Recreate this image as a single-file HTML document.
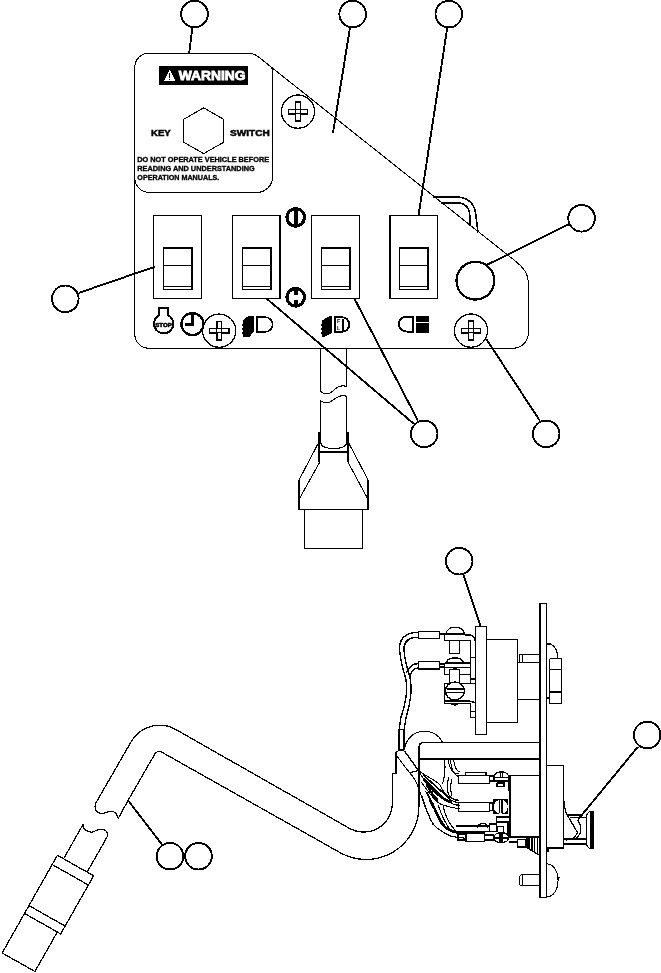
<!DOCTYPE html>
<html><head><meta charset="utf-8"><title>Panel</title>
<style>
html,body{margin:0;padding:0;background:#fff;}
svg{display:block;filter:grayscale(1);}
text{font-family:"Liberation Sans",sans-serif;font-weight:bold;fill:#000;}
.l{fill:none;stroke:#000;stroke-width:1.05;}
.m{fill:none;stroke:#000;stroke-width:1.6;}
.k{fill:none;stroke:#000;stroke-width:2;}
.w{fill:#fff;stroke:#000;stroke-width:1.05;}
.wm{fill:#fff;stroke:#000;stroke-width:1.6;}
.b{fill:#000;stroke:none;}
</style></head><body>
<svg width="661" height="973" viewBox="0 0 661 973" shape-rendering="crispEdges">
<rect width="661" height="973" fill="#fff"/>

<!-- ===== TOP PANEL ===== -->
<g id="panel">
<!-- handle behind panel -->
<path class="m" d="M432.8,196.9 H455 C467,196.9 475,203 476,216 L478,232.5"/>
<path class="m" d="M440.5,202.7 H456 C464,202.9 469.6,207 469.8,216 L470,226"/>
<!-- panel outline -->
<path class="l" d="M134.8,67.2 A14,14 0 0 1 148.8,53.2 H248.5 Q253.2,53.2 257.5,56.2 L516,261.6 Q528.3,271.3 528.3,282 V333 A15,15 0 0 1 513.3,348.2 H148.8 A14,14 0 0 1 134.8,334.2 Z"/>
<!-- warning label -->
<path class="l" d="M134.8,178 A14.5,14.5 0 0 0 149.3,192.4 H257 A15.6,15.6 0 0 0 272.6,176.8 V71.5 Q272.6,68.5 270.3,66.3"/>
<rect class="b" x="159.3" y="66.1" width="88.8" height="18.9"/>
<path d="M169.6,69.6 L175.4,81.2 H163.8 Z" fill="#fff"/>
<path d="M169.6,73.2 V77.6 M169.6,78.6 V80.2" stroke="#000" stroke-width="1.5" fill="none"/>
<text x="178.8" y="80" font-size="12.4" textLength="66.8" lengthAdjust="spacingAndGlyphs" style="fill:#fff;stroke:#fff;stroke-width:0.8">WARNING</text>
<path class="l" d="M203.7,107.8 L223.6,119.3 V142.3 L203.7,153.6 L183.8,142.3 V119.3 Z"/>
<text x="151" y="135.6" font-size="9.5" textLength="19.8" lengthAdjust="spacingAndGlyphs" style="stroke:#000;stroke-width:0.5">KEY</text>
<text x="230" y="135.6" font-size="9.5" textLength="39.8" lengthAdjust="spacingAndGlyphs" style="stroke:#000;stroke-width:0.5">SWITCH</text>
<text x="137.3" y="162.4" font-size="7.8" textLength="131.8" lengthAdjust="spacingAndGlyphs" style="stroke:#000;stroke-width:0.35">DO NOT OPERATE VEHICLE BEFORE</text>
<text x="137.3" y="171.2" font-size="7.8" textLength="117.4" lengthAdjust="spacingAndGlyphs" style="stroke:#000;stroke-width:0.35">READING AND UNDERSTANDING</text>
<text x="137.3" y="180.3" font-size="7.8" textLength="82" lengthAdjust="spacingAndGlyphs" style="stroke:#000;stroke-width:0.35">OPERATION MANUALS.</text>
</g>

<!-- switches -->
<g id="switches">
<rect class="l" x="153.5" y="215.5" width="48" height="83"/>
<rect class="l" x="163.5" y="247.5" width="28.5" height="42"/>
<path class="k" d="M163.0,248 h29.5 M191.5,247 v43"/>
<path class="l" d="M163.5,265.5 h28 M163.5,286.5 h28"/>
<rect class="l" x="232.5" y="215.5" width="48" height="83"/>
<rect class="l" x="242.5" y="247.5" width="28.5" height="42"/>
<path class="k" d="M242.0,248 h29.5 M270.5,247 v43"/>
<path class="l" d="M242.5,265.5 h28 M242.5,286.5 h28"/>
<rect class="l" x="311.5" y="215.5" width="48" height="83"/>
<rect class="l" x="321.5" y="247.5" width="28.5" height="42"/>
<path class="k" d="M321.0,248 h29.5 M349.5,247 v43"/>
<path class="l" d="M321.5,265.5 h28 M321.5,286.5 h28"/>
<rect class="l" x="390" y="215.5" width="47.5" height="83"/>
<rect class="l" x="399.5" y="247.5" width="28.5" height="42"/>
<path class="k" d="M399.0,248 h29.5 M427.5,247 v43"/>
<path class="l" d="M399.5,265.5 h28 M399.5,286.5 h28"/>
<path class="k" d="M280,215 v84"/>
</g>
<!-- screws -->
<g transform="translate(298,111.6)"><circle class="w" r="16.6" style="stroke-width:1.3"/><path class="l" d="M-2.4,-9.4 h4.8 v7.2 h7.2 v4.4 h-7.2 v7.2 h-4.8 v-7.2 h-7.2 v-4.4 h7.2 Z" style="stroke-width:1.5"/><rect class="l" x="-2.4" y="-2.2" width="4.8" height="4.4" style="stroke-width:1"/></g>
<g transform="translate(219.2,330.7)"><circle class="w" r="16.6" style="stroke-width:1.3"/><path class="l" d="M-2.4,-9.4 h4.8 v7.2 h7.2 v4.4 h-7.2 v7.2 h-4.8 v-7.2 h-7.2 v-4.4 h7.2 Z" style="stroke-width:1.5"/><rect class="l" x="-2.4" y="-2.2" width="4.8" height="4.4" style="stroke-width:1"/></g>
<g transform="translate(471,330.6)"><circle class="w" r="16.6" style="stroke-width:1.3"/><path class="l" d="M-2.4,-9.4 h4.8 v7.2 h7.2 v4.4 h-7.2 v7.2 h-4.8 v-7.2 h-7.2 v-4.4 h7.2 Z" style="stroke-width:1.5"/><rect class="l" x="-2.4" y="-2.2" width="4.8" height="4.4" style="stroke-width:1"/></g>
<!-- slot symbols -->
<circle cx="295.7" cy="217.4" r="8.8" fill="#fff" stroke="#000" stroke-width="3.2"/>
<path d="M295.7,208 V227" stroke="#000" stroke-width="3.8" fill="none"/>
<circle cx="295.7" cy="297.3" r="8.8" fill="#fff" stroke="#000" stroke-width="3.2"/>
<path d="M295.7,288 V294.7 M295.7,300 V306.5" stroke="#000" stroke-width="3.8" fill="none"/>
<!-- pilot light -->
<circle cx="475.4" cy="280.7" r="18.9" fill="none" stroke="#000" stroke-width="2.2"/>
<!-- icons -->
<g id="icons">
<path d="M158.9,315.4 V307.9 H168.4 V315.4 A9.6,9.6 0 1 1 158.9,315.4 Z" fill="#fff" stroke="#000" stroke-width="2"/>
<text x="155.2" y="326.9" font-size="5.6" textLength="16.6" lengthAdjust="spacingAndGlyphs" style="stroke:#000;stroke-width:0.5">STOP</text>
<circle cx="192.4" cy="324.1" r="11" fill="#fff" stroke="#000" stroke-width="2.3"/>
<path d="M192.9,313 V325.2 M185,324.1 H194.4" stroke="#000" stroke-width="3" fill="none"/>
<!-- sw2 headlight -->
<path d="M247.8,316.3 H253.7 V331.3 L249.6,337.2 H242.4 L243.4,335 L242.2,333 L243.4,331 L242.2,329 L243.4,327 L242.2,325 L243.4,323 L242.4,321.3 Z" class="b" stroke="#000" stroke-width="0.8"/>
<path d="M257.1,317.1 H265 C275,317.1 275,331.9 265,331.9 H257.1 Z" fill="#fff" stroke="#000" stroke-width="1.6"/>
<!-- sw3 headlight -->
<path d="M329,316.3 H332.2 V332.7 L323.5,337.2 H321.3 L322.4,335 L321.1,333 L322.4,331 L321.1,329 L322.4,327 L321.1,325 L322.4,323 L321.3,320.9 Z" class="b" stroke="#000" stroke-width="0.8"/>
<path d="M335.3,317.2 H342 C351.4,317.2 351.4,331.8 342,331.8 H335.3 Z" fill="#fff" stroke="#000" stroke-width="1.9"/>
<path d="M343,318.5 V330.5" stroke="#000" stroke-width="1.2"/>
<text x="337" y="323.4" font-size="5.4">F</text>
<text x="337" y="330.4" font-size="5.4">L</text>
<!-- sw4 headlight -->
<path d="M413,316.9 H406 C396,316.9 396,331.7 408,331.7 H413 Z" fill="#fff" stroke="#000" stroke-width="1.9"/>
<rect class="b" x="416.2" y="316.1" width="12.7" height="5.7"/>
<rect class="b" x="416.2" y="323.2" width="12.7" height="9.5"/>
</g>
<!-- balloons + leaders -->
<g id="balloons">
<path class="m" style="stroke-width:1.9" d="M192.5,27 L189.2,53.2 M350,27.5 L333,132.8 M447.3,27.5 L418.6,215 M568.6,224.4 L487.4,264.6 M78.7,292.9 L154.8,266.8 M266.4,298.4 L413.7,423.7 M354.3,298.4 L418,420.7 M486.2,338.8 L539.8,420.7 M463.6,575.2 L480.6,626.2 M637.8,746.9 L577.9,819.8 M128.1,800.4 L162.1,844.7"/>
<circle class="wm" cx="194.5" cy="14.1" r="13.3" style="stroke-width:1.9"/>
<circle class="wm" cx="352.7" cy="14.1" r="13.3" style="stroke-width:1.9"/>
<circle class="wm" cx="448.8" cy="14.1" r="13.3" style="stroke-width:1.9"/>
<circle class="wm" cx="581.6" cy="218.3" r="13.3" style="stroke-width:1.9"/>
<circle class="wm" cx="65.3" cy="298.8" r="13.3" style="stroke-width:1.9"/>
<circle class="wm" cx="424.2" cy="433.9" r="13.3" style="stroke-width:1.9"/>
<circle class="wm" cx="546.2" cy="433.9" r="13.3" style="stroke-width:1.9"/>
<circle class="wm" cx="459.2" cy="561.2" r="13.3" style="stroke-width:1.9"/>
<circle class="wm" cx="647.2" cy="735" r="13.3" style="stroke-width:1.9"/>
<circle class="wm" cx="170" cy="856.2" r="13.3" style="stroke-width:1.9"/>
<circle class="wm" cx="198.5" cy="856.2" r="13.3" style="stroke-width:1.9"/>
</g>
<!-- upper cable and connector -->
<g id="cable1">
<path class="l" d="M320.9,348.6 V391.5 C326,396 331,393 334,390 C338,386 342,385 346.4,386.5 V348.6"/>
<path class="l" d="M320.9,443 V400.8 C326,405 331,402 334,399.5 C338,396 342,395 346.4,396.2 V443 C346.4,450.5 320.9,450.5 320.9,443"/>
<path class="k" d="M319.2,431.6 V462.1 M348.2,431.6 V462.1"/>
<path class="m" d="M319.7,452 H348"/>
<path class="l" d="M318.4,443 L298.9,480.2 M348.7,443 L368.2,480.2 M319.7,462.1 L299.4,498.8 M348,462.1 L367.7,498.8"/>
<path class="m" d="M298.9,480.2 V509.6 H368.2 V480.2"/>
<path class="l" d="M304.4,509.6 V548.5 H362.7 V509.6"/>
</g>
<!-- ===== LOWER FIGURE ===== -->
<g id="bigcable">
<!-- outer/upper line -->
<path class="l" d="M95.5,803.6 L131.2,741.6 A32.8,32.8 0 0 1 175.8,729.5 L349.4,828.3 A28.9,28.9 0 0 0 392.5,803.6 V773.8 H395.9 V752"/>
<!-- inner/lower line -->
<path class="l" d="M128.1,800.4 L154.9,753.9 A4.9,4.9 0 0 1 161.5,752 L340.2,852.7 A52.8,52.8 0 0 0 418.9,806.7 V758.8"/>
<!-- break upper -->
<path class="l" d="M95.5,803.6 C93.5,812 100,815 106,812.5 C112,810 116,811 118.2,818.5 L128.1,800.4"/>
<!-- lower stub + connector -->
<g transform="translate(57.4,855.3) rotate(29.5)">
<path class="l" d="M7.1,0 V-39.8 C8.5,-37 10,-35.5 12.2,-35.6 C15,-35.6 16.5,-36 18.5,-37 C21,-39.5 22,-42 24.3,-43.4 C27,-45.2 29,-45.6 30.5,-45 C33,-44 34.2,-42.5 34.2,-40 V0"/>
<path class="l" d="M0,0 H41.6 V66.8 H0 Z M0,10.6 H41.6 M0,57.8 H41.6 M0,66.8 V112.2 H37.7 V66.8"/>
</g></g>
<style>
.t path,.t rect,.t ellipse,.t circle,.t line{vector-effect:non-scaling-stroke;}
.h .l,.h .w{stroke-width:1.4;}
#bigcable .l{stroke-width:1.25;}
</style>
<!-- ===== SWITCH ASSEMBLY ===== -->
<g id="assembly">
<!-- bend arc -->
<path class="l" d="M404.6,749.5 A20,20 0 0 1 442.5,742.3"/>
<!-- horizontal tube -->
<path class="w" d="M539.9,742.3 H424 Q419,742.3 419,747.5 V758.8 H539.9" style="stroke-width:1.5"/>
<!-- vertical plate -->
<rect class="w" x="539.9" y="603.6" width="6.4" height="294" style="stroke-width:1.5"/>
<!-- upper switch -->
<rect class="w" x="475.7" y="626.6" width="10.7" height="107.8" style="stroke-width:1.4"/>
<path class="l" d="M486.4,639.5 H517.5 V722.6 H486.4" style="stroke-width:1.5"/>
<path class="l" d="M517.5,662.5 H539.9 M517.5,699.4 H539.9 M519.3,662.5 V654.6 H539.9 M522.3,654.6 V662.5"/>
<!-- nut right of plate -->
<path class="l" d="M546.3,644 H550.5 Q557.5,647 557.9,658.5 M546.3,698 H549.5 M549.5,658.5 V703.4 H561.5 V658.5 H549.5 M549.5,669.9 H561.5"/>
<path class="m" d="M549.5,691.8 H561.5"/>
<!-- lower right block + knob -->
<path class="l" d="M546.3,765.5 H563.4 V848 H546.3" style="stroke-width:1.5"/>
<path class="k" d="M546.3,848 H563.4"/>
<!-- lower switch body -->
<rect class="w" x="510.3" y="775.6" width="29.6" height="61.8" style="stroke-width:1.8"/>
</g>
<!-- upper terminals (traced in tile coords) -->
<g class="t h" transform="translate(410,618) scale(0.12405)">
<!-- sleeves -->
<rect class="w" x="70" y="108" width="170" height="57"/>
<rect class="w" x="70" y="352" width="170" height="60"/>
<!-- connection sleeve1-dome -->
<path class="k" d="M240,132 H440"/>
<path class="l" d="M287,132 C300,55 425,55 440,132"/>
<!-- bracket 1 -->
<path class="l" d="M440,137 H485 Q522,140 526,185 M280,135 V180 H488 V520 M320,180 V285 H400 V180"/>
<path class="l" d="M490,320 H527 M490,490 H527"/>
<path class="k" d="M490,495 H527"/>
<!-- dome 2 -->
<path class="l" d="M292,358 C310,310 415,310 430,358"/>
<path class="k" d="M285,360 H488"/>
<path class="l" d="M240,372 H280 M240,394 H280 M280,360 V455 H320 M280,400 H488 M400,455 H488"/>
<path class="l" d="M320,415 V520 M400,415 V520 M320,418 Q360,405 400,418"/>
<!-- lower block and big screw -->
<path class="l" d="M527,530 H280 V690 H490 V800 H527 M490,755 H527 M280,668 H470 L527,682"/>
<ellipse class="w" cx="362" cy="588" rx="77" ry="72"/>
<path class="k" d="M298,574 H428" style="stroke-width:2.4"/>
<path class="l" d="M292,600 H433"/>
<path class="l" d="M330,690 Q360,712 390,690"/>
</g>
<!-- upper wires (tile 380,600 @5.0076) -->
<g class="t h" transform="translate(380,600) scale(0.19970)">
<path class="l" d="M195,162 C150,162 108,175 99,225 C94,270 110,330 128,390 C142,450 128,520 104,590 L96,648"/>
<path class="l" d="M195,186 C160,186 128,196 121,232 C117,275 132,330 150,385 C164,450 152,520 130,590 L121,648"/>
<path class="l" d="M195,318 C165,318 145,330 133,365"/>
<path class="l" d="M195,340 C175,340 158,352 150,385"/>
<path class="l" d="M128,390 C136,420 136,440 132,470"/>
<rect class="w" x="96" y="648" width="25" height="102"/>
</g>
<!-- lower terminals (tile 456,762 @7.185) -->
<g class="t h" transform="translate(456,762) scale(0.13918)">
<rect class="w" x="70" y="75" width="145" height="22"/>
<rect class="w" x="20" y="95" width="220" height="60"/>
<path class="k" d="M240,103 H390 M240,140 H390"/>
<path class="w" d="M272,110 C272,58 378,58 378,110 Z"/>
<path class="l" d="M320,72 V110 M333,72 V110 M272,110 V135 H380 V110 M295,150 V175 H345 V150 H295 M380,140 V210"/>
<path class="l" d="M0,310 H20 M0,335 H20"/>
<rect class="w" x="20" y="290" width="220" height="65"/>
<rect class="w" x="240" y="295" width="27" height="55"/>
<rect x="266" y="266" width="110" height="111" fill="#000"/>
<circle cx="322" cy="322" r="50" fill="#fff"/>
<path class="l" d="M314,274 V370 M330,274 V370"/>
<path class="l" d="M290,395 H390 M290,395 V500 M290,430 H390 M300,500 V465 H340 V500 M375,430 V540"/>
<path class="l" d="M0,460 H80 M0,500 H300 M80,460 H240 V500 M155,475 C160,430 225,430 228,475 M240,445 H290"/>
<rect class="w" x="15" y="520" width="55" height="40"/>
<rect class="wm" x="70" y="510" width="135" height="60"/>
<path class="k" d="M205,525 H272 M205,558 H272"/>
<path class="w" d="M272,545 C272,495 378,495 378,545 C378,590 272,590 272,545 Z"/>
<path class="l" d="M315,510 V580 M330,510 V580 M272,545 H378"/>
<path class="l" d="M380,575 H440 M440,555 H500 V610 H440 Z M510,545 V615 M525,545 V625 M545,545 V640 M565,545 V650 M585,545 V660 M500,610 L600,670"/>
</g>
<!-- wire bundle (tile 386,738 @8.061) -->
<g class="t" transform="translate(386,738) scale(0.12405)">
<!-- bend arc behind tube -->
<path class="l" d="M470,168 C480,230 478,300 455,372"/>
<!-- wires to sleeve 1 -->
<path class="l" d="M500,168 C505,230 530,285 592,292 M545,168 C550,220 565,262 592,272 M520,168 C522,240 540,300 592,315"/>
<path class="l" d="M510,310 C495,350 490,400 500,440 C508,470 520,480 535,490 M530,330 C520,370 520,420 530,470"/>
<!-- bundle sheath -->
<path class="l" d="M85,140 C75,120 90,100 112,100 C135,98 148,102 152,108 C190,160 230,220 262,262 C310,300 380,330 430,372 C460,420 480,470 520,500 C545,515 570,520 592,522"/>
<path class="l" d="M85,140 C120,190 160,240 190,280 C230,320 250,360 268,420 C290,480 320,580 360,660 C385,715 430,750 520,790 C560,800 600,805 640,808"/>
<path class="l" d="M262,262 C300,330 350,420 430,470 C470,500 520,530 592,548"/>
<path class="l" d="M280,350 C320,400 360,470 420,520 C450,545 500,555 592,572"/>
<path class="l" d="M300,330 C340,370 400,420 440,470 C470,500 500,510 530,515" style="stroke-width:2.5"/>
<path class="l" d="M320,430 C360,500 400,600 450,690 C480,740 540,765 640,775"/>
<path class="l" d="M350,500 C390,560 420,640 470,710 C500,750 560,760 640,762" style="stroke-width:2.2"/>
<path class="l" d="M420,540 C440,600 470,680 520,740 M460,550 C475,610 500,690 560,745"/>
<path class="l" d="M290,470 C310,540 340,620 380,700"/>
<path class="l" d="M300,300 C350,340 410,400 470,450 C500,470 540,500 592,505" style="stroke-width:1.6"/>
<path class="l" d="M330,380 C350,420 380,470 420,500" style="stroke-width:2.2"/>
<path class="l" d="M330,440 C370,520 400,600 440,680 C470,730 520,760 600,770" style="stroke-width:1.8"/>
<path class="l" d="M370,520 C390,570 410,620 440,670" style="stroke-width:2.4"/>
<path class="l" d="M152,108 L262,262 M190,280 L262,262" style="stroke-width:1.4"/>
</g>
<!-- knob etc (tile 490,730 @5.0076) -->
<g class="t" transform="translate(490,730) scale(0.19970)">
</g>
<g id="knob">
<path class="l" d="M563.7,800 C564.5,808 566,813 567.5,815.5 L577.7,832.8 L573.2,838.9" style="stroke-width:1.3"/>
<path class="l" d="M577.7,820 C580.5,824 581.5,829 580,833.6 C578.5,836.5 577,838 575.4,838.9 L566,840" style="stroke-width:1.3"/>
<path class="k" d="M567.9,815.2 H581"/>
<path class="l" d="M569.8,817.6 H586.4" style="stroke-width:1.3"/>
<path d="M563.7,838 H586.4 V840.4 H563.7 Z M563.7,842.7 H586.4 V845.3 H563.7 Z" class="b"/>
<path d="M586.4,815 L589.4,811.5 H593.4 V848.5 H589.4 L586.4,845 Z" fill="#fff" stroke="#000" stroke-width="1.2"/>
<rect class="b" x="590.2" y="811" width="3.6" height="38"/>
</g>
<g class="t" transform="translate(490,730) scale(0.19970)">
<!-- bottom screw -->
<path class="w" d="M283,670 C360,672 360,834 283,836 Z"/>
<path class="l" d="M336,735 L346,740 L336,746"/>
<path class="w" d="M250,725 H160 Q148,725 148,740 V765 Q148,780 160,780 H250 Z"/>
<path class="l" d="M163,727 V778"/>
<rect class="b" x="283" y="590" width="14" height="22"/>
</g>
</svg>
</body></html>
